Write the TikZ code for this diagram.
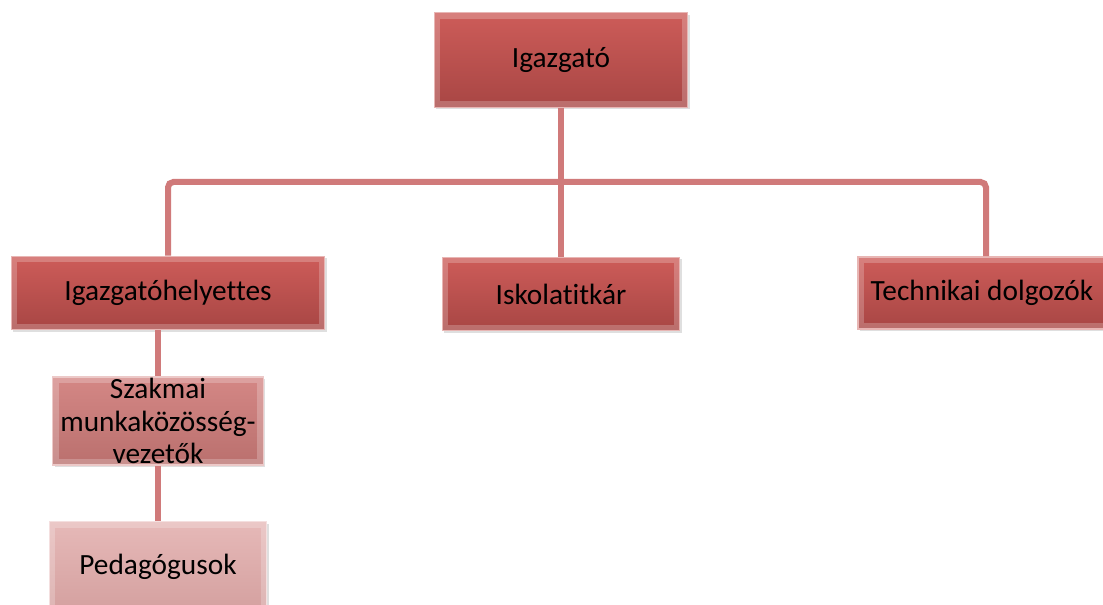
\documentclass[tikz,border=0pt]{standalone}
\usepackage{fontspec}
\setmainfont{Carlito}[Ligatures=NoCommon, RawFeature={-liga;-clig;-calt}]
\usetikzlibrary{shadows}
\definecolor{redtop}{RGB}{205,92,89}
\definecolor{redbot}{RGB}{168,70,68}
\definecolor{midtop}{RGB}{212,135,133}
\definecolor{midbot}{RGB}{186,112,110}
\definecolor{paletop}{RGB}{230,185,184}
\definecolor{palebot}{RGB}{212,160,159}
\definecolor{linkred}{RGB}{208,122,122}
\begin{document}
\begin{tikzpicture}[
    x=0.75pt, y=-0.75pt,
    box/.style={rectangle, draw=white!55!redtop, line width=1.2pt, inner sep=2pt,
        top color=redtop, bottom color=redbot, text=black, font=\fontsize{22}{24.5}\selectfont,
        align=center, drop shadow={opacity=0.25, shadow xshift=1.5pt, shadow yshift=-1.5pt},
        path picture={\draw[white, opacity=0.22, line width=9pt]
            (path picture bounding box.south west) rectangle (path picture bounding box.north east);}},
    midbox/.style={box, draw=white!55!midtop, top color=midtop, bottom color=midbot},
    palebox/.style={box, draw=white!55!paletop, top color=paletop, bottom color=palebot},
    link/.style={draw=linkred, line width=4.5pt, rounded corners=4pt}
]
\clip (0,0) rectangle (1103,605);
\fill[white] (0,0) rectangle (1103,605);
% top level
\node[box, minimum width=190pt, minimum height=71pt] (igazgato) at (561,60) {Igazgató};
% second level
\node[box, minimum width=235pt, minimum height=55pt] (helyettes) at (168,293) {Igazgatóhelyettes};
\node[box, minimum width=178pt, minimum height=55pt] (titkar) at (561,294) {Iskolati\kern0pt tkár};
\node[box, minimum width=192pt, minimum height=54pt] (technikai) at (986,293) {Technikai dolgozók\hspace{6pt}};
% under the deputy
\node[midbox, minimum width=158pt, minimum height=66pt, inner sep=0pt] (szakmai) at (158,421) {Szakmai\\munkaközösség-\\vezetők};
\node[palebox, minimum width=163pt, minimum height=68pt] (pedagogus) at (158,567) {Pedagógusok};
\coordinate (bar) at (561,182);
\draw[link] (helyettes.north) |- (bar) -| (technikai.north);
\draw[link] (igazgato.south) -- (titkar.north);
\draw[link] (helyettes.south -| szakmai.north) -- (szakmai.north);
\draw[link] (szakmai.south) -- (pedagogus.north);
\end{tikzpicture}
\end{document}
